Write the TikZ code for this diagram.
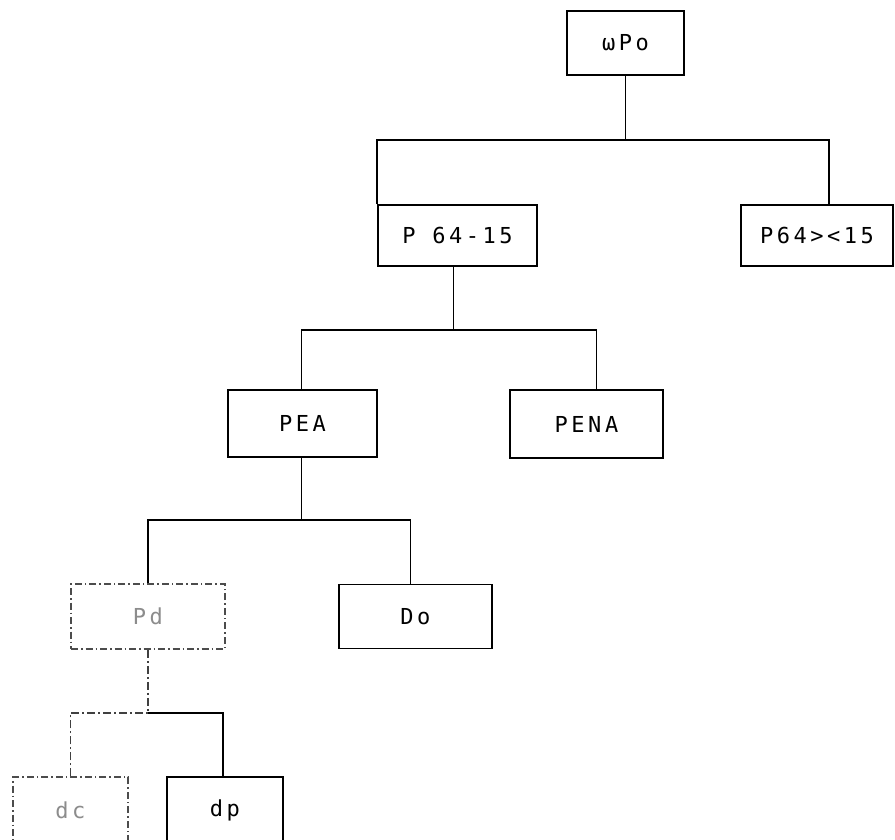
\documentclass[tikz,border=0pt]{standalone}
\usepackage{fontspec}
\newfontfamily\plotfont[LetterSpace=16]{DejaVu Sans Mono}
\usetikzlibrary{positioning}

\begin{document}
\begin{tikzpicture}[
        x=1pt,y=-1pt,
        box/.style={draw,line width=1.5pt,inner sep=0pt,
            minimum height=64pt,font={\plotfont\fontsize{22}{22}\selectfont}},
        faded/.style={draw=black!70,dash pattern=on 7pt off 3pt on 1.5pt off 3pt,
            text=black!45},
        link/.style={line width=1.6pt},
        fadelink/.style={line width=1.3pt,black!75,dash pattern=on 8pt off 3pt on 2pt off 3pt}
        ]

        % Page
        \fill[white] (0,0) rectangle (895,840);
        \useasboundingbox (0,0) rectangle (895,840);

        % Boxes
        \node[box,minimum width=117pt] (wpo) at (625.5,43) {ωPo};
        \node[box,minimum width=159pt,minimum height=61pt] (p6415) at (457.5,235.5) {P 64-15};
        \node[box,minimum width=152pt,minimum height=61pt] (p64gt) at (817,235.5) {P64><15};

        \node[box,minimum width=149pt,minimum height=67pt] (pea) at (302.5,423.5) {PEA};
        \node[box,minimum width=153pt,minimum height=68pt] (pena) at (586.5,424) {PENA};

        \node[box,faded,minimum width=154pt,minimum height=65pt] (pd) at (148,616.5) {Pd};
        \node[box,minimum width=153pt] (do) at (415.5,616.5) {Do};

        \node[box,faded,minimum width=115pt,minimum height=66pt] (dc) at (70.5,810) {dc};
        \node[box,minimum width=116pt,minimum height=66pt] (dp) at (225,810) {dp};

        % Junction bars
        \coordinate (bar1) at (0,140);
        \coordinate (bar2) at (0,330);
        \coordinate (bar3) at (0,520);
        \coordinate (bar4) at (0,713);

        % Level 1
        \draw[link] (wpo.south) -- (wpo.south |- bar1);
        \draw[link] (p6415.north west) |- (wpo.south |- bar1) -| ([xshift=12pt]p64gt.north);

        % Level 2
        \draw[link] ([xshift=-4pt]p6415.south) -- ([xshift=-4pt]p6415.south |- bar2);
        \draw[link] ([xshift=-1pt]pea.north) |- ([xshift=-4pt]p6415.south |- bar2) -| ([xshift=10pt]pena.north);

        % Level 3
        \draw[link] ([xshift=-1pt]pea.south) -- ([xshift=-1pt]pea.south |- bar3);
        \draw[link] (pd.north) |- ([xshift=-1pt]pea.south |- bar3) -| ([xshift=-5pt]do.north);

        % Level 4
        \draw[fadelink] (pd.south) -- (pd.south |- bar4);
        \draw[fadelink] (dc.north) |- (pd.south |- bar4);
        \draw[link] (pd.south |- bar4) -| ([xshift=-2pt]dp.north);
    \end{tikzpicture}
\end{document}
